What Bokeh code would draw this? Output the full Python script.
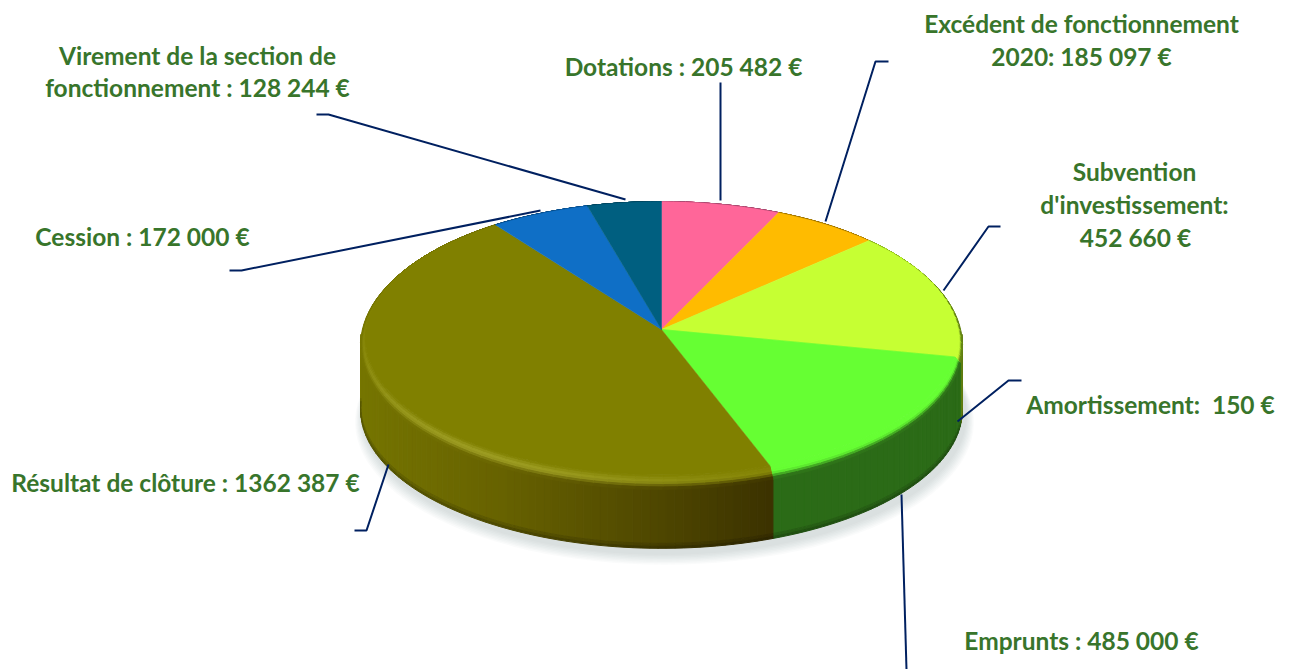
import math
from bokeh.plotting import figure
from bokeh.core.properties import value
from bokeh.embed import file_html
from bokeh.resources import INLINE

# ---- data ----
categories = ["Dotations", "Excédent de fonctionnement 2020", "Subvention d'investissement",
              "Amortissement", "Emprunts", "Résultat de clôture", "Cession",
              "Virement de la section de fonctionnement"]
amounts = [205482, 185097, 452660, 150, 485000, 1362387, 172000, 128244]
top_colors = ["#ff6699", "#ffbb00", "#c6ff33", "#99ff33", "#66ff33", "#808000", "#0f6fc6", "#005f80"]
side_colors = ["#7a3d5c", "#7a5a00", "#5f7d12", "#3f8a1a", "#2b6b17", None, "#08406f", "#003a4e"]
label_lines = [
    "Virement de la section de", "fonctionnement : 128 244 €", "Cession : 172 000 €",
    "Dotations : 205 482 €", "Excédent de fonctionnement", "2020: 185 097 €",
    "Subvention", "d'investissement:", "452 660 €", "Amortissement:\u00a0 150 €",
    "Résultat de clôture : 1362 387 €", "Emprunts : 485 000 €",
]

# ---- layout ----
label_x = [197, 197, 142, 683, 1081, 1081, 1134, 1134, 1135, 1150, 185, 1081]
label_y = [55, 87, 236, 66, 23, 56, 171, 204, 237, 404, 482, 640]
leaders_x = [[316, 328, 625], [229, 241, 540], [720, 720], [888, 875, 825], [1000, 988, 943],
             [1021, 1008, 957], [901, 906], [388, 366, 354]]
leaders_y = [[114, 114, 199], [270, 270, 210], [82, 200], [61, 61, 221], [226, 226, 290],
             [380, 380, 421], [494, 669], [464, 530, 530]]
CX, CY, R, B, K = 661.0, 329.0, 300.0, 138.0, 0.079
DEPTH, BEVEL = 69.0, 10.0
TEXT_GREEN = "#38752b"
LEADER = "#002060"


def project(theta, s=1.0, z=0.0):
    d = 1 + K * math.cos(theta)
    return CX + s * R * math.sin(theta) / d, CY - s * B * math.cos(theta) / d + z


def s_in(theta):
    return 1 - 0.03 * (0.5 - 0.5 * math.cos(theta))


def mix(a, b, t):
    return tuple(a[i] + (b[i] - a[i]) * t for i in range(3))


def rgb(h):
    return tuple(int(h[i:i + 2], 16) for i in (1, 3, 5))


def hx(c):
    return "#%02x%02x%02x" % tuple(max(0, min(255, round(v))) for v in c)


OLIVE_STOPS = [(-1.0, (118, 118, 0)), (-0.5, (103, 98, 0)), (0.0, (78, 70, 0)), (0.4, (56, 46, 0))]


def side_rgb(i, theta):
    if side_colors[i] is not None:
        return rgb(side_colors[i])
    x = math.sin(theta)
    for (x0, c0), (x1, c1) in zip(OLIVE_STOPS, OLIVE_STOPS[1:]):
        if x <= x1:
            return mix(c0, c1, max(0, (x - x0) / (x1 - x0)))
    return OLIVE_STOPS[-1][1]


total = sum(amounts)
edges = [0.0]
for a in amounts:
    edges.append(edges[-1] + a / total * 2 * math.pi)

p = figure(width=1292, height=669, x_range=(0, 1292), y_range=(669, 0),
           toolbar_location=None, output_backend="svg", min_border=0)
p.axis.visible = False
p.grid.visible = False
p.outline_line_color = None
p.background_fill_color = "white"

# soft shadow under the disc
sh_x, sh_y = [], []
for k in range(8, 0, -1):
    xs, ys = [], []
    for n in range(120):
        th = n / 120 * 2 * math.pi
        x, y = project(th, 1 + k * 0.0035, DEPTH + 5)
        xs.append(x + 3)
        ys.append(y + k * 0.9)
    sh_x.append(xs)
    sh_y.append(ys)
p.patches(sh_x, sh_y, fill_color="#8a8f96", fill_alpha=0.04, line_color=None)

STEP = math.radians(2.5)
SIDE_STEP = math.radians(1.5)
px, py, pc = [], [], []


def add(xs, ys, c):
    px.append(xs)
    py.append(ys)
    pc.append(hx(c))


# side wall (only between the two silhouette tangents of the projected disc)
for i in range(len(amounts)):
    a0, a1 = edges[i], edges[i + 1]
    lo, hi = max(a0, math.radians(92)), min(a1, math.radians(268))
    if hi <= lo:
        continue
    n = max(1, math.ceil((hi - lo) / SIDE_STEP))
    for j in range(n):
        t0, t1 = lo + (hi - lo) * j / n, lo + (hi - lo) * (j + 1) / n
        c = side_rgb(i, (t0 + t1) / 2)
        for z0, z1, f in ((0.0, DEPTH - 5, 1.0), (DEPTH - 5, DEPTH - 2, 0.88), (DEPTH - 2, DEPTH, 0.75)):
            a, b = project(t0, 1, z0), project(t1, 1, z0)
            d, e = project(t1, 1, z1), project(t0, 1, z1)
            add([a[0], b[0], d[0], e[0]], [a[1], b[1], d[1], e[1]], tuple(v * f for v in c))

# bevelled rim
RINGS = 6
for i in range(len(amounts)):
    a0, a1 = edges[i], edges[i + 1]
    n = max(1, math.ceil((a1 - a0) / STEP))
    base = rgb(top_colors[i])
    for j in range(n):
        t0, t1 = a0 + (a1 - a0) * j / n, a0 + (a1 - a0) * (j + 1) / n
        tm = (t0 + t1) / 2
        sc = side_rgb(i, tm)
        glow = 0.0
        if side_colors[i] is None:
            glow = 0.30 * math.exp(-((math.degrees(tm) - 215) / 45) ** 2)
        for r in range(RINGS):
            u0, u1 = r / RINGS, (r + 1) / RINGS
            um = (u0 + u1) / 2
            if um < 0.45:
                c = mix(base, (230, 230, 120), glow * (um / 0.45))
            else:
                hi_c = mix(base, (230, 230, 120), glow)
                w = (um - 0.45) / 0.55
                c = mix(hi_c, sc, w * w * (3 - 2 * w))

            def pt(t, u):
                s = s_in(t) + (1 - s_in(t)) * u
                zz = BEVEL * u * max(0.0, 0.45 - 0.55 * math.cos(t))
                return project(t, s, min(zz, BEVEL))
            a, b, d, e = pt(t0, u0), pt(t1, u0), pt(t1, u1), pt(t0, u1)
            add([a[0], b[0], d[0], e[0]], [a[1], b[1], d[1], e[1]], c)

p.patches(px, py, fill_color=pc, line_color=pc, line_width=1)

# flat top slices
tx, ty = [], []
for i in range(len(amounts)):
    a0, a1 = edges[i], edges[i + 1]
    n = max(2, math.ceil((a1 - a0) / math.radians(1.0)))
    xs, ys = [CX], [CY]
    for j in range(n + 1):
        t = a0 + (a1 - a0) * j / n
        x, y = project(t, s_in(t))
        xs.append(x)
        ys.append(y)
    tx.append(xs)
    ty.append(ys)
p.patches(tx, ty, fill_color=top_colors, line_color=top_colors, line_width=0.5)

# leaders
p.multi_line(leaders_x, leaders_y, line_color=LEADER, line_width=2)

# labels
p.text(label_x, label_y, text=label_lines, text_align="center", text_baseline="middle",
       text_font=value("Lato"), text_font_style="bold", text_font_size="24.5px",
       text_color=TEXT_GREEN)

open("out.html", "w").write(file_html(p, INLINE))
